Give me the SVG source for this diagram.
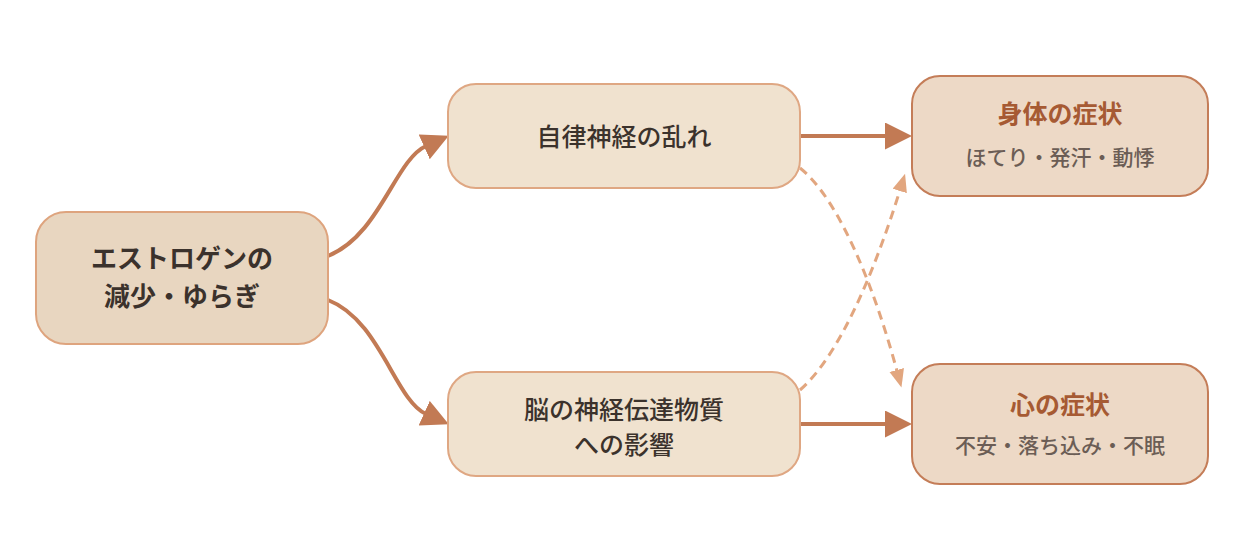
<svg xmlns="http://www.w3.org/2000/svg" width="1240" height="560" viewBox="0 0 1240 560">
  <defs>
    <marker id="head" markerUnits="userSpaceOnUse" markerWidth="28" markerHeight="28" refX="2" refY="13.5" orient="auto">
      <path d="M0,0 L27,13.5 L0,27 z" fill="#c27a54"/>
    </marker>
    <marker id="headDash" markerUnits="userSpaceOnUse" markerWidth="19" markerHeight="16" refX="1" refY="7.5" orient="auto">
      <path d="M0,0 L18,7.5 L0,15 z" fill="#e2a67f"/>
    </marker>
    <style>
      .box { stroke-width: 2; }
      .src { fill: #e8d6c0; stroke: #dea47e; }
      .mid { fill: #f0e2cf; stroke: #dfa783; }
      .out { fill: #edd9c6; stroke: #c47d58; }
      .t { font-family: "Noto Sans CJK JP", "Noto Sans", sans-serif; text-anchor: middle; fill: #3b322c; }
      .main { font-size: 25px; font-weight: 500; }
      .bold { font-size: 26px; font-weight: 700; }
      .title { font-size: 25px; font-weight: 700; fill: #a65a33; }
      .sub { font-size: 21px; font-weight: 500; fill: #6b5d55; }
      .solid { fill: none; stroke: #c27a54; stroke-width: 4; marker-end: url(#head); }
      .dash { fill: none; stroke: #e2a67f; stroke-width: 3; stroke-dasharray: 9 6; marker-end: url(#headDash); }
    </style>
  </defs>

  <rect width="1240" height="560" fill="#ffffff"/>

  <!-- connectors -->
  <g id="connectors">
    <path class="solid" d="M328,256 C380,235 395,160 426,146"/>
    <path class="solid" d="M328,300 C380,320 395,400 426,414"/>
    <path class="solid" d="M800,136 L887,136"/>
    <path class="solid" d="M800,424 L887,424"/>
    <path class="dash" d="M800,168 C840,200 875,290 897,371"/>
    <path class="dash" d="M800,390 C840,355 875,270 900,190"/>
  </g>

  <!-- estrogen source -->
  <g id="estrogen">
    <rect class="box src" x="36" y="212" width="292" height="132" rx="30"/>
    <text class="t bold" x="182" y="268">エストロゲンの</text>
    <text class="t bold" x="182" y="306">減少・ゆらぎ</text>
  </g>

  <!-- autonomic nerves -->
  <g id="autonomic">
    <rect class="box mid" x="448" y="84" width="352" height="104" rx="28"/>
    <text class="t main" x="624" y="146">自律神経の乱れ</text>
  </g>

  <!-- neurotransmitters -->
  <g id="neuro">
    <rect class="box mid" x="448" y="372" width="352" height="104" rx="28"/>
    <text class="t main" x="624" y="419">脳の神経伝達物質</text>
    <text class="t main" x="624" y="454">への影響</text>
  </g>

  <!-- physical symptoms -->
  <g id="physical">
    <rect class="box out" x="912" y="76" width="296" height="120" rx="28"/>
    <text class="t title" x="1060" y="123">身体の症状</text>
    <text class="t sub" x="1060" y="165">ほてり・発汗・動悸</text>
  </g>

  <!-- mental symptoms -->
  <g id="mental">
    <rect class="box out" x="912" y="364" width="296" height="120" rx="28"/>
    <text class="t title" x="1060" y="414">心の症状</text>
    <text class="t sub" x="1060" y="453">不安・落ち込み・不眠</text>
  </g>
</svg>
